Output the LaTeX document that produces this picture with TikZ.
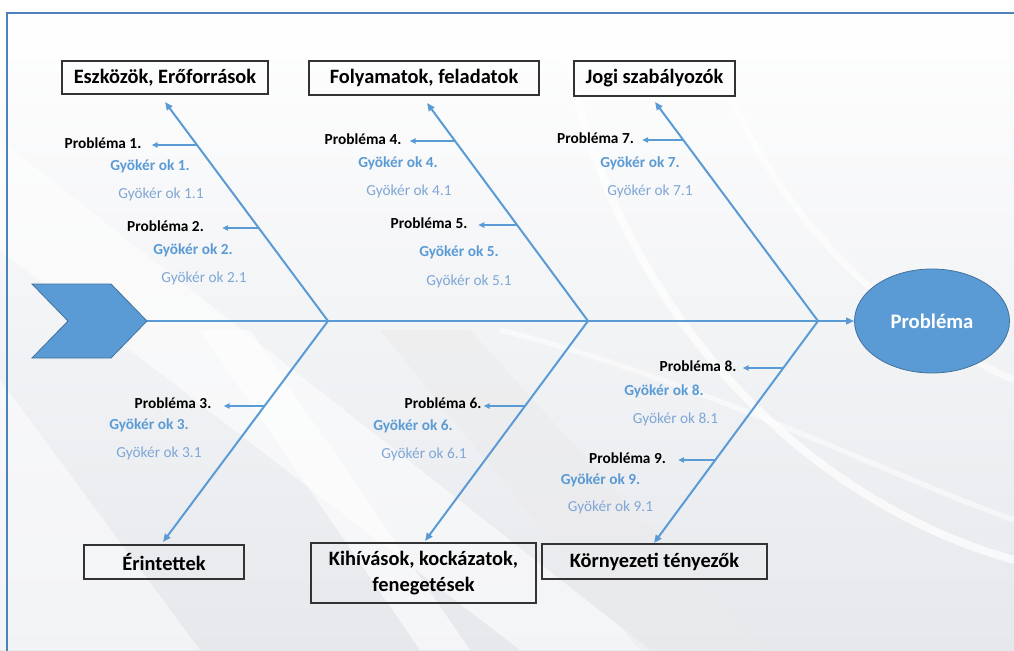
\documentclass[tikz,border=0pt]{standalone}
\usepackage{fontspec}
\setmainfont{Carlito}
\usetikzlibrary{arrows.meta,shapes.geometric,calc}
\definecolor{bone}{HTML}{5B9BD5}
\definecolor{boned}{HTML}{41719C}
\definecolor{frame}{HTML}{4F81BD}
\definecolor{gyb}{HTML}{5B9BD5}
\definecolor{gyl}{HTML}{7FA7D6}
\definecolor{bgg}{HTML}{E6E8EC}
\tikzset{
  cat/.style={draw=black!80, line width=1.1pt, align=center, inner sep=0pt,
    font=\bfseries\fontsize{15.3}{19}\selectfont},
  prob/.style={font=\bfseries\fontsize{11.5}{13}\selectfont, text=black,
    inner sep=0pt, text height=0.7em, text depth=0.2em},
  gy/.style={font=\bfseries\fontsize{11.5}{13}\selectfont, text=gyb,
    inner sep=0.5pt, text height=0.7em, text depth=0.2em},
  gyl/.style={font=\fontsize{11.5}{13}\selectfont, text=gyl,
    inner sep=0.5pt, text height=0.7em, text depth=0.2em},
  bonel/.style={draw=bone, line width=1.5pt, -{Triangle[length=6pt,width=5pt]}},
  smallarr/.style={draw=bone, line width=1.1pt, -{Triangle[length=4.5pt,width=4pt]}},
}
\begin{document}
\begin{tikzpicture}[x=0.75pt,y=-0.75pt]
\useasboundingbox (0,0) rectangle (1014,650);
% background
\begin{scope}
\clip (0,0) rectangle (1014,650);
\shade[top color=white, bottom color=bgg] (0,0) rectangle (1014,650);
\fill[white, opacity=0.55] (0,140) -- (0,250) -- (520,650) -- (650,650) -- cycle;
\fill[white, opacity=0.6] (200,330) -- (250,330) -- (470,650) -- (420,650) -- cycle;
\fill[black!8, opacity=0.5] (380,330) -- (470,330) -- (760,650) -- (640,650) -- cycle;
\fill[white, opacity=0.7] (0,0) rectangle (1014,60);
\draw[white, line width=6pt, opacity=0.7] (560,13) .. controls (600,300) and (800,500) .. (1014,560);
\draw[white, line width=5pt, opacity=0.6] (700,13) .. controls (760,220) and (900,330) .. (1014,380);
\draw[white, line width=4pt, opacity=0.5] (500,330) .. controls (700,380) and (900,480) .. (1014,520);
\fill[white, opacity=0.5] (0,380) -- (0,650) -- (200,650) -- cycle;
\end{scope}
\draw[frame, line width=1.5pt] (7,660) -- (7,13) -- (1020,13);

% head and tail
\draw[draw=boned, fill=bone, line width=0.6pt] (32,284) -- (111,284) -- (147,321) -- (111,358) -- (32,358) -- (68,321) -- cycle;
\coordinate (chev) at (147,321);
\node[ellipse, draw=boned, fill=bone, line width=0.6pt, minimum width=116.25pt, minimum height=78pt,
  text=white, font=\bfseries\fontsize{15.5}{18}\selectfont] (prob) at (932,321) {Probléma};

% category boxes
\node[cat, minimum width=154.5pt, minimum height=24.75pt] (c1) at (165,77.5) {Eszközök, Erőforrások};
\node[cat, minimum width=172.5pt, minimum height=25.5pt] (c2) at (424,78) {Folyamatok, feladatok};
\node[cat, minimum width=120.75pt, minimum height=26.25pt] (c3) at (654.5,78.5) {Jogi szabályozók};
\node[cat, minimum width=120pt, minimum height=25.5pt] (c4) at (164,562) {Érintettek};
\node[cat, minimum width=168.75pt, minimum height=45pt] (c5) at (423.5,573) {Kihívások, kockázatok,\\fenegetések};
\node[cat, minimum width=168.75pt, minimum height=26.25pt] (c6) at (654.5,561.5) {Környezeti tényezők};

% joints and tips
\coordinate (j1) at (328,321);
\coordinate (j2) at (588,321);
\coordinate (j3) at (818,321);
\coordinate (t1) at (165,102);
\coordinate (t2) at (427,103);
\coordinate (t3) at (655,102);
\coordinate (b1) at (163,542);
\coordinate (b2) at (425,541);
\coordinate (b3) at (654,543);

% spine and bones
\draw[bonel] (chev) -- (prob.west);
\draw[bonel] (j1) -- (t1);
\draw[bonel] (j2) -- (t2);
\draw[bonel] (j3) -- (t3);
\draw[bonel] (j1) -- (b1);
\draw[bonel] (j2) -- (b2);
\draw[bonel] (j3) -- (b3);

% labels
\node[prob] (p1) at (103,145) {Probléma 1.};
\node[gy]   (g1) at (150,167) {Gyökér ok 1.};
\node[gyl]  (h1) at (161,195) {Gyökér ok 1.1};
\node[prob] (p2) at (165.5,228) {Probléma 2.};
\node[gy]   (g2) at (193,251) {Gyökér ok 2.};
\node[gyl]  (h2) at (204,279) {Gyökér ok 2.1};

\node[prob] (p4) at (363,141) {Probléma 4.};
\node[gy]   (g4) at (398,164) {Gyökér ok 4.};
\node[gyl]  (h4) at (409,192) {Gyökér ok 4.1};
\node[prob] (p5) at (429,225) {Probléma 5.};
\node[gy]   (g5) at (459,253) {Gyökér ok 5.};
\node[gyl]  (h5) at (469,282) {Gyökér ok 5.1};

\node[prob] (p7) at (595.5,140) {Probléma 7.};
\node[gy]   (g7) at (640,164) {Gyökér ok 7.};
\node[gyl]  (h7) at (650,192) {Gyökér ok 7.1};

\node[prob] (p3) at (173,405) {Probléma 3.};
\node[gy]   (g3) at (149,426) {Gyökér ok 3.};
\node[gyl]  (h3) at (159,454) {Gyökér ok 3.1};

\node[prob] (p6) at (443,405) {Probléma 6.};
\node[gy]   (g6) at (413,427) {Gyökér ok 6.};
\node[gyl]  (h6) at (424,455) {Gyökér ok 6.1};

\node[prob] (p8) at (698,368) {Probléma 8.};
\node[gy]   (g8) at (664,392) {Gyökér ok 8.};
\node[gyl]  (h8) at (675.5,420) {Gyökér ok 8.1};
\node[prob] (p9) at (627.5,460) {Probléma 9.};
\node[gy]   (g9) at (600.5,481) {Gyökér ok 9.};
\node[gyl]  (h9) at (610.5,508) {Gyökér ok 9.1};

% small arrows from bones
\coordinate (a1) at (197,145);
\coordinate (a2) at (259,228);
\coordinate (a4) at (455,141);
\coordinate (a5) at (517,225);
\coordinate (a7) at (683,140);
\coordinate (a3) at (264.5,406);
\coordinate (a6) at (525,406);
\coordinate (a8) at (783,368);
\coordinate (a9) at (715,460);
\draw[smallarr, shorten >=7.5pt] (a1) -- (a1 -| p1.east);
\draw[smallarr, shorten >=13.5pt] (a2) -- (a2 -| p2.east);
\draw[smallarr, shorten >=6pt] (a4) -- (a4 -| p4.east);
\draw[smallarr, shorten >=8pt] (a5) -- (a5 -| p5.east);
\draw[smallarr, shorten >=6pt] (a7) -- (a7 -| p7.east);
\draw[smallarr, shorten >=9pt] (a3) -- (a3 -| p3.east);
\draw[smallarr, shorten >=1.5pt] (a6) -- (a6 -| p6.east);
\draw[smallarr, shorten >=4.5pt] (a8) -- (a8 -| p8.east);
\draw[smallarr, shorten >=9pt] (a9) -- (a9 -| p9.east);
\end{tikzpicture}
\end{document}
